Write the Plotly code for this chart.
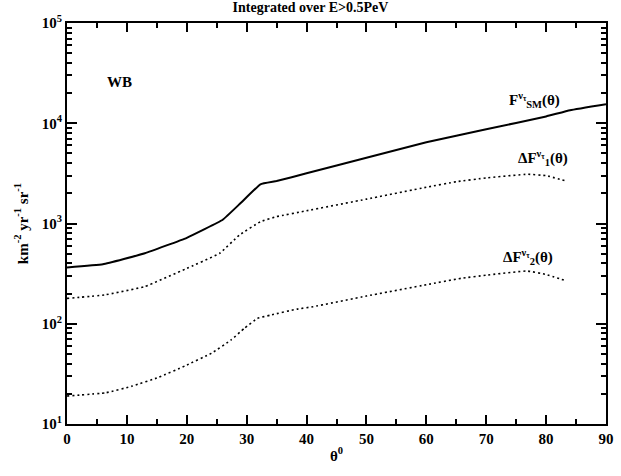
import plotly.graph_objects as go

theta_sm = [0, 6, 13, 20, 26, 29, 32.3, 35, 40, 50, 60, 70, 80, 84, 90]
flux_sm = [365, 392, 505, 720, 1090, 1600, 2460, 2650, 3170, 4530, 6450, 8700, 11700, 13500, 15500]

theta_d1 = [0, 6.3, 13, 19.7, 25.5, 28.8, 32.3, 35, 40, 50, 60, 65, 70, 77, 80, 83.4]
flux_d1 = [179, 194, 235, 350, 505, 768, 1043, 1170, 1340, 1750, 2300, 2610, 2850, 3100, 3000, 2650]

theta_d2 = [0, 6.5, 10.9, 15.3, 19.7, 24.1, 27.4, 29.6, 31.8, 34, 38.4, 41.1, 50, 60, 65.8, 70, 76.8, 80, 83.4]
flux_d2 = [19.0, 20.5, 23.9, 29.2, 38, 50.7, 68.9, 90, 113, 122, 140, 148, 189, 245, 284, 305, 336, 310, 267]

ytick_vals = [10, 100, 1000, 10000, 100000]
ytick_text = ["10<sup>1</sup>", "10<sup>2</sup>", "10<sup>3</sup>", "10<sup>4</sup>", "10<sup>5</sup>"]
xtick_vals = [0, 10, 20, 30, 40, 50, 60, 70, 80, 90]

serif = "Liberation Serif"
font = dict(family=serif, size=14, color="black")

fig = go.Figure()
fig.add_trace(go.Scatter(x=theta_sm, y=flux_sm, mode="lines",
                         line=dict(color="black", width=2, shape="spline", smoothing=0.3),
                         showlegend=False))
fig.add_trace(go.Scatter(x=theta_d1, y=flux_d1, mode="lines",
                         line=dict(color="black", width=1.6, dash="2px,3px", shape="spline", smoothing=0.3),
                         showlegend=False))
fig.add_trace(go.Scatter(x=theta_d2, y=flux_d2, mode="lines",
                         line=dict(color="black", width=1.6, dash="2px,3px", shape="spline", smoothing=0.3),
                         showlegend=False))

fig.update_layout(
    width=621, height=476,
    margin=dict(l=67, r=7, t=23, b=52),
    paper_bgcolor="white", plot_bgcolor="white",
    font=font,
    title=dict(text="<b>Integrated over E>0.5PeV</b>", x=0.5, xanchor="center",
               y=1, yanchor="top", yref="container", pad=dict(t=2),
               font=dict(family=serif, size=14, color="black")),
    xaxis=dict(range=[0, 90], tickvals=xtick_vals,
               ticktext=["<b>%d</b>" % v for v in xtick_vals],
               ticks="inside", ticklen=9, tickwidth=2, tickcolor="black",
               showline=True, linewidth=2, linecolor="black", mirror="ticks",
               showgrid=False, zeroline=False,
               tickfont=dict(family=serif, size=15, color="black"),
               minor=dict(tickvals=[5, 15, 25, 35, 45, 55, 65, 75, 85], ticks="inside",
                          ticklen=5, tickwidth=2, tickcolor="black", showgrid=False),
               title=dict(text="<b>θ<sup>0</sup></b>", standoff=4,
                          font=dict(family=serif, size=15, color="black"))),
    yaxis=dict(type="log", range=[1, 5], tickvals=ytick_vals,
               ticktext=["<b>" + t + "</b>" for t in ytick_text],
               ticks="inside", ticklen=10, tickwidth=2, tickcolor="black",
               showline=True, linewidth=2, linecolor="black", mirror="ticks",
               showgrid=False, zeroline=False,
               tickfont=dict(family=serif, size=15, color="black"),
               minor=dict(tickvals=[m * 10 ** e for e in range(1, 5) for m in range(2, 10)],
                          ticks="inside", ticklen=5, tickwidth=2, tickcolor="black",
                          showgrid=False),
               title=dict(text="<b>km<sup>-2</sup> yr<sup>-1</sup> sr<sup>-1</sup></b>", standoff=10,
                          font=dict(family=serif, size=15, color="black"))),
)

fig.add_annotation(x=8.7, y=4.41, xref="x", yref="y", text="<b>WB</b>", showarrow=False,
                   font=dict(family=serif, size=15, color="black"))
fig.add_annotation(x=78, y=4.23, xref="x", yref="y",
                   text="<b>F<sup>ν<sub>τ</sub></sup><sub>SM</sub>(θ)</b>", showarrow=False,
                   font=dict(family=serif, size=15, color="black"))
fig.add_annotation(x=79.5, y=3.65, xref="x", yref="y",
                   text="<b>ΔF<sup>ν<sub>τ</sub></sup><sub>1</sub>(θ)</b>", showarrow=False,
                   font=dict(family=serif, size=15, color="black"))
fig.add_annotation(x=77, y=2.67, xref="x", yref="y",
                   text="<b>ΔF<sup>ν<sub>τ</sub></sup><sub>2</sub>(θ)</b>", showarrow=False,
                   font=dict(family=serif, size=15, color="black"))

fig.write_html("out.html")
